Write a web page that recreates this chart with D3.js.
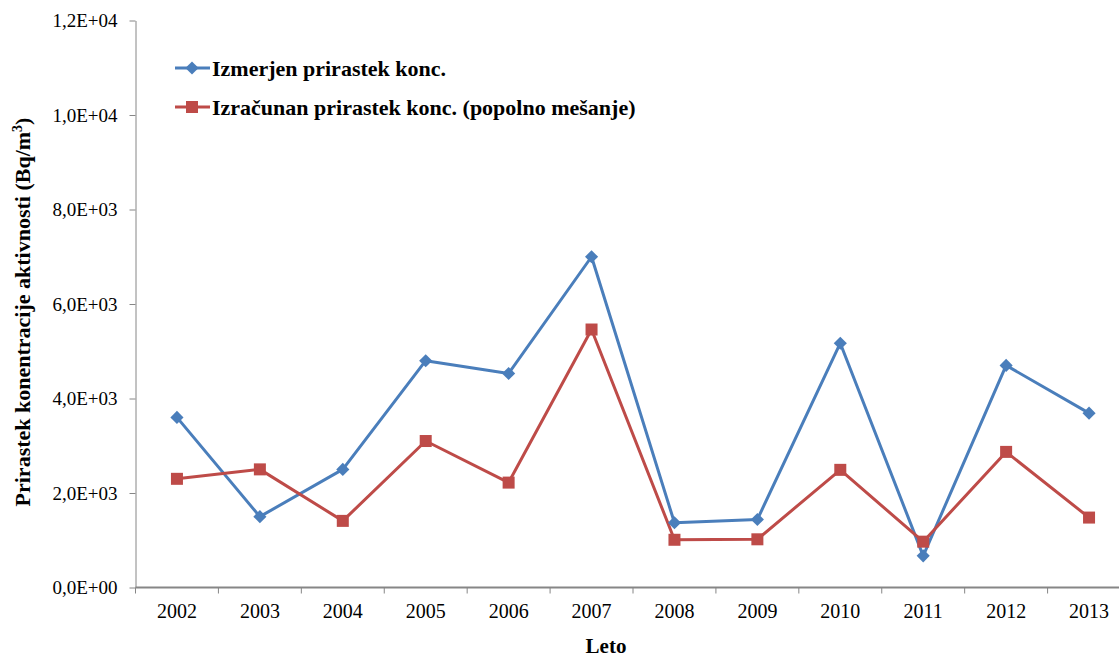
<!DOCTYPE html>
<html lang="sl">
<head>
<meta charset="UTF-8">
<title>Prirastek koncentracije</title>
<style>
  body { margin: 0; background: #fff; }
  svg { display: block; }
</style>
</head>
<body>
<script src="https://cdn.jsdelivr.net/npm/d3@7"></script>
<script>
const years = ['2002','2003','2004','2005','2006','2007','2008','2009','2010','2011','2012','2013'];
const izmerjen = [3600, 1500, 2500, 4800, 4530, 7000, 1370, 1440, 5170, 670, 4700, 3690];
const izracunan = [2300, 2500, 1410, 3100, 2220, 5460, 1010, 1020, 2490, 970, 2870, 1480];
const yTicks = [0, 2000, 4000, 6000, 8000, 10000, 12000];
const seriesNames = ['Izmerjen prirastek konc.', 'Izračunan prirastek konc. (popolno mešanje)'];

const width = 1119, height = 657;
const plotLeft = 135.5, plotRight = 1130.5, plotTop = 20.5, plotBottom = 587.5;
const font = 'Liberation Serif';
const axisColor = '#868686';

const svg = d3.select('body').append('svg')
    .attr('width', width)
    .attr('height', height);

const x = d3.scaleBand().domain(years).range([plotLeft, plotRight]);
const y = d3.scaleLinear().domain([0, 12000]).range([plotBottom, plotTop]);

// y axis
const fmt = v => {
    if (v === 0) return '0,0E+00';
    const e = Math.floor(Math.log10(v));
    const m = (v / Math.pow(10, e)).toFixed(1).replace('.', ',');
    return m + 'E+' + String(e).padStart(2, '0');
};
const yAxis = svg.append('g')
    .attr('transform', `translate(${plotLeft},0)`)
    .call(d3.axisLeft(y).tickValues(yTicks).tickFormat(fmt).tickSize(6).tickSizeOuter(0).tickPadding(12));
yAxis.attr('font-family', font);
yAxis.select('.domain').attr('stroke', axisColor);
yAxis.selectAll('.tick line').attr('stroke', axisColor);
yAxis.selectAll('text').attr('font-family', font).attr('font-size', 19).attr('fill', '#000');

// x axis, ticks on the category boundaries
const xAxis = svg.append('g')
    .attr('transform', `translate(0,${plotBottom})`);
xAxis.append('line')
    .attr('x1', plotLeft).attr('x2', plotRight)
    .attr('stroke', axisColor).attr('stroke-width', 2);
xAxis.selectAll('line.tk')
    .data(years.concat(['end']))
    .enter().append('line')
    .attr('class', 'tk')
    .attr('x1', (d, i) => plotLeft + i * x.step())
    .attr('x2', (d, i) => plotLeft + i * x.step())
    .attr('y1', 0).attr('y2', 6)
    .attr('stroke', axisColor);
xAxis.selectAll('text')
    .data(years)
    .enter().append('text')
    .attr('x', d => x(d) + x.bandwidth() / 2)
    .attr('y', 30)
    .attr('text-anchor', 'middle')
    .attr('font-family', font)
    .attr('font-size', 20)
    .text(d => d);

// axis titles
svg.append('text')
    .attr('x', 606).attr('y', 653)
    .attr('text-anchor', 'middle')
    .attr('font-family', font).attr('font-size', 21).attr('font-weight', 'bold')
    .text('Leto');

const yt = svg.append('text')
    .attr('transform', 'translate(30,312) rotate(-90)')
    .attr('text-anchor', 'middle')
    .attr('font-family', font).attr('font-size', 22).attr('font-weight', 'bold');
yt.append('tspan').text('Prirastek konentracije aktivnosti (Bq/m');
yt.append('tspan').attr('font-size', 14).attr('dy', -8).text('3');
yt.append('tspan').attr('dy', 8).text(')');

// lines
const line = d3.line()
    .x((d, i) => x(years[i]) + x.bandwidth() / 2)
    .y(d => y(d));

const colors = ['#4A7EBB', '#BE4B48'];
const data = [izmerjen, izracunan];

data.forEach((vals, k) => {
    svg.append('path')
        .datum(vals)
        .attr('d', line)
        .attr('fill', 'none')
        .attr('stroke', colors[k])
        .attr('stroke-width', 3)
        .attr('stroke-linejoin', 'round');
});

// markers
const diamond = d3.symbol().type(d3.symbolDiamond2).size(110);
svg.selectAll('path.dia')
    .data(izmerjen)
    .enter().append('path')
    .attr('class', 'dia')
    .attr('d', diamond)
    .attr('transform', (d, i) => `translate(${x(years[i]) + x.bandwidth() / 2},${y(d)})`)
    .attr('fill', colors[0]);

svg.selectAll('rect.sq')
    .data(izracunan)
    .enter().append('rect')
    .attr('class', 'sq')
    .attr('x', (d, i) => x(years[i]) + x.bandwidth() / 2 - 6)
    .attr('y', d => y(d) - 6)
    .attr('width', 12).attr('height', 12)
    .attr('fill', colors[1]);

// legend
const legend = svg.append('g');
seriesNames.forEach((name, k) => {
    const ly = 68 + k * 39;
    legend.append('line')
        .attr('x1', 175).attr('x2', 210)
        .attr('y1', ly).attr('y2', ly)
        .attr('stroke', colors[k]).attr('stroke-width', 3);
    if (k === 0) {
        legend.append('path')
            .attr('d', diamond)
            .attr('transform', `translate(192,${ly})`)
            .attr('fill', colors[k]);
    } else {
        legend.append('rect')
            .attr('x', 186).attr('y', ly - 6)
            .attr('width', 12).attr('height', 12)
            .attr('fill', colors[k]);
    }
    legend.append('text')
        .attr('x', 212).attr('y', ly + 7.5)
        .attr('font-family', font).attr('font-size', 22).attr('font-weight', 'bold')
        .text(name);
});
</script>
</body>
</html>
